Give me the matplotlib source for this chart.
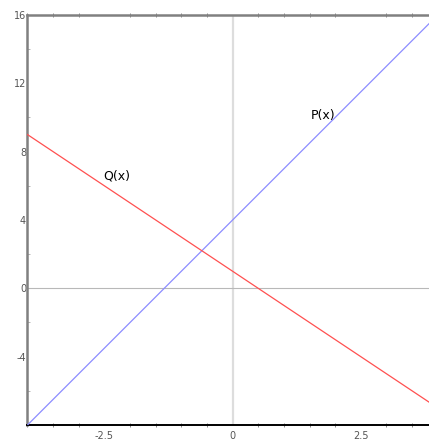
import numpy as np
import matplotlib.pyplot as plt
from matplotlib.ticker import MultipleLocator

# Dados: duas retas P(x) e Q(x)
x_ends = [-4.0, 4.0]
p_values = [-8.0, 16.0]   # P(x) = 3x + 4
q_values = [9.0, -7.0]    # Q(x) = -2x + 1

x_ticks = [-2.5, 0, 2.5]
x_tick_labels = ['-2.5', '0', '2.5']
y_ticks = [-4, 0, 4, 8, 12, 16]
y_tick_labels = ['-4', '0', '4', '8', '12', '16']

labels = ['P(x)', 'Q(x)']
label_pos = [(1.77, 10.1), (-2.26, 6.55)]

fig = plt.figure(figsize=(4.29, 4.41), dpi=100)
ax = fig.add_axes([0.0641, 0.0363, 0.9359, 0.9297])

ax.set_xlim(-4, 3.83)
ax.set_ylim(-8, 16)

# eixos de referência em x=0 e y=0
ax.axvline(0, color='#dddddd', linewidth=1.6, zorder=1)
ax.axhline(0, color='#b8b8b8', linewidth=0.8, zorder=1)

ax.plot(x_ends, p_values, color='#8c8cff', linewidth=0.9, zorder=3)
ax.plot(x_ends, q_values, color='#ff5050', linewidth=0.9, zorder=3)

for text, (tx, ty) in zip(labels, label_pos):
    ax.text(tx, ty, text, ha='center', va='center', fontsize=9, color='black')

# bordas
for side in ['left', 'top']:
    ax.spines[side].set_color('#808080')
    ax.spines[side].set_linewidth(1.8)
ax.spines['bottom'].set_color('black')
ax.spines['bottom'].set_linewidth(1.4)
ax.spines['right'].set_visible(False)

ax.set_xticks(x_ticks)
ax.set_xticklabels(x_tick_labels)
ax.set_yticks(y_ticks)
ax.set_yticklabels(y_tick_labels)
ax.xaxis.set_minor_locator(MultipleLocator(0.5))
ax.yaxis.set_minor_locator(MultipleLocator(2))

ax.tick_params(axis='both', which='major', length=0, labelsize=7, labelcolor='#555555')
ax.tick_params(axis='x', which='major', pad=4)
ax.tick_params(axis='y', which='major', pad=1)
ax.tick_params(axis='x', which='minor', length=3, width=0.7, color='#888888',
               direction='inout', top=True, bottom=True)
ax.tick_params(axis='y', which='minor', length=2, width=0.6, color='#aaaaaa',
               direction='in')

fig.savefig('out.png', dpi=100)
